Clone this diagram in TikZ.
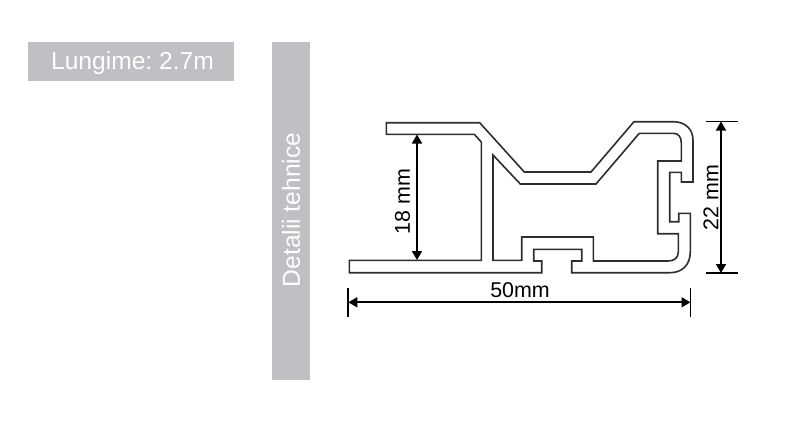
\documentclass[tikz,border=0pt]{standalone}
\usepackage{fontspec}
\setmainfont{Liberation Sans}
\usetikzlibrary{arrows.meta}
\frenchspacing
\definecolor{panel}{HTML}{BFC0C4}
\definecolor{profile}{HTML}{2E2E2E}
\tikzset{
  panelbox/.style={fill=panel,draw=none,inner sep=0pt},
  paneltext/.style={inner sep=0pt,text=white,font=\fontsize{24.6}{28}\selectfont},
  profileline/.style={draw=profile,line width=1.6pt,line join=miter},
  dimline/.style={draw=black,line width=1.7pt,{Triangle[length=9pt,width=10pt]}-{Triangle[length=9pt,width=10pt]}},
  dimtick/.style={draw=black,line width=1.8pt},
  dimlabel/.style={inner sep=0pt,text=black,font=\fontsize{21.4}{25}\selectfont}
}
\begin{document}
\begin{tikzpicture}[x=1pt,y=-1pt]
\useasboundingbox (0,0) rectangle (800,423);
% panels
\node[panelbox,minimum width=206.5pt,minimum height=38.5pt] (len) at (131.2,61.5) {};
\node[paneltext] (lenlabel) at (132.5,62.8) {Lungime: 2.7m};
\node[panelbox,minimum width=37.2pt,minimum height=338pt] (tech) at (290.9,211) {};
\node[paneltext,rotate=90] (techlabel) at (291,210) {Detalii tehnice};
% profile outer contour
\draw[profileline] (386.3,122.7) -- (479.7,122.7) -- (524.3,172) -- (591,172) -- (634,121.7) -- (673.3,121.7)
  .. controls (685,121.7) and (693,129) .. (693,140) -- (693,182) -- (681.3,182) -- (681.3,172.3) -- (669.7,172.3)
  -- (669.7,221.7) -- (678.7,221.7) -- (678.7,213.3) -- (690.3,213.3) -- (690.3,251.7)
  .. controls (690.3,265) and (682,272.7) .. (670,272.7) -- (571.7,272.7) -- (571.7,261) -- (581.7,261) -- (581.7,249.3)
  -- (533.7,249.3) -- (533.7,261) -- (541.7,261) -- (541.7,272.7) -- (349.3,272.7) -- (349.3,260.3) -- (481.3,260.3)
  -- (481.3,142) -- (474.3,134.3) -- (386.3,134.3) -- cycle;
% profile inner contour
\draw[profileline] (493,155) -- (520.3,184) -- (596,184) -- (639.3,133.3) -- (673.3,133.3)
  .. controls (678.5,133.3) and (681.3,137) .. (681.3,143) -- (681.3,161) -- (657.7,161) -- (657.7,233.7)
  -- (678.3,233.7) -- (678.3,252) .. controls (678.3,258) and (674,261) .. (668,261) -- (593.3,261) -- (593.3,237)
  -- (521.7,237) -- (521.7,260.3) -- (493,260.3) -- cycle;
% dimensions
\coordinate (a18t) at (417,134.5);
\coordinate (a18b) at (417,260);
\draw[dimline] (a18t) -- (a18b);
\node[dimlabel,rotate=90] (l18) at (402.5,201.7) {18 mm};
\coordinate (t22a) at (706,121.5);
\coordinate (t22b) at (738,121.5);
\coordinate (t22c) at (706,273);
\coordinate (t22d) at (738,273);
\coordinate (a22t) at (721,121.5);
\coordinate (a22b) at (721,273);
\draw[dimtick] (t22a) -- (t22b);
\draw[dimtick] (t22c) -- (t22d);
\draw[dimline] (a22t) -- (a22b);
\node[dimlabel,rotate=90] (l22) at (711,197.5) {22 mm};
\coordinate (t50a) at (348.3,288);
\coordinate (t50b) at (348.3,316.7);
\coordinate (t50c) at (690.5,288);
\coordinate (t50d) at (690.5,316.7);
\coordinate (a50l) at (348.3,302.3);
\coordinate (a50r) at (690.5,302.3);
\draw[dimtick] (t50a) -- (t50b);
\draw[dimtick] (t50c) -- (t50d);
\draw[dimline] (a50l) -- (a50r);
\node[dimlabel] (l50) at (520,290.5) {50mm};
\end{tikzpicture}
\end{document}
